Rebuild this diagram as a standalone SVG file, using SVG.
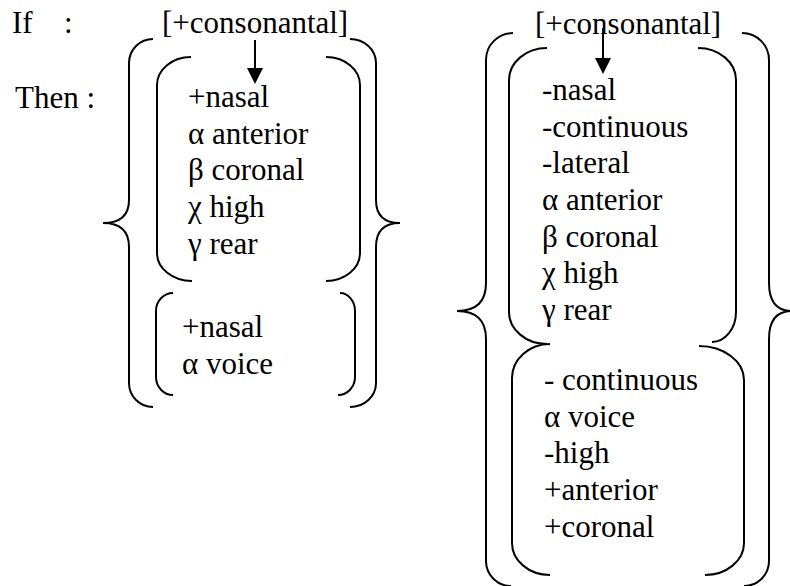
<svg xmlns="http://www.w3.org/2000/svg" width="790" height="586" viewBox="0 0 790 586">
  <defs>
    <style>
      text { font-family: "Liberation Serif", "Times New Roman", serif; font-size: 31px; fill: #000; }
      .br { fill: none; stroke: #000; stroke-width: 2; }
      .ar { stroke: #000; stroke-width: 2; fill: none; }
      .hd { fill: #000; stroke: none; }
    </style>
  </defs>
  <rect width="790" height="586" fill="#fff"/>

  <g id="labels">
    <text x="12" y="33">If</text>
    <text x="64" y="33">:</text>
    <text x="15" y="108">Then :</text>
  </g>

  <g id="left-condition">
    <text x="162" y="33">[+consonantal]</text>
  </g>

  <g id="left-outer-brace">
    <path class="br" d="M153,39 A24,24 0 0 0 129,63 L129,200 Q129,223 103,223 Q129,223 129,247 L129,383 A24,24 0 0 0 153,407"/>
    <path class="br" d="M350,39 A26,24 0 0 1 376,63 L376,200 Q376,223 400,223 Q376,223 376,247 L376,383 A26,24 0 0 1 350,407"/>
  </g>

  <g id="left-inner-top">
    <path class="br" d="M191,57 A34,28 0 0 0 157,85 L157,253 A35,28 0 0 0 192,281"/>
    <path class="br" d="M326,57 A34,28 0 0 1 360,85 L360,253 A34,28 0 0 1 326,281"/>
    <text x="188" y="107">+nasal</text>
    <text x="188" y="144">α anterior</text>
    <text x="188" y="180">β coronal</text>
    <text x="188" y="217">χ high</text>
    <text x="188" y="254">γ rear</text>
  </g>

  <g id="left-inner-bottom">
    <path class="br" d="M173,293 A17,18 0 0 0 156,311 L156,377 A17,18 0 0 0 173,395"/>
    <path class="br" d="M340,293 A15,18 0 0 1 355,311 L355,377 A17,18 0 0 1 338,395"/>
    <text x="182" y="337">+nasal</text>
    <text x="182" y="374">α voice</text>
  </g>

  <g id="right-condition">
    <text x="535" y="34">[+consonantal]</text>
  </g>

  <g id="right-outer-brace">
    <path class="br" d="M513,33 A27,27 0 0 0 486,60 L486,283 Q486,311 457,311 Q486,311 486,339 L486,561 A25,25 0 0 0 511,586"/>
    <path class="br" d="M742,33 A27,27 0 0 1 769,60 L769,283 Q769,311 792,311 Q769,311 769,339 L769,561 A25,25 0 0 1 744,586"/>
  </g>

  <g id="right-inner-top">
    <path class="br" d="M547,48 A38,32 0 0 0 509,80 L509,312 A38,32 0 0 0 547,344"/>
    <path class="br" d="M698,48 A38,32 0 0 1 736,80 L736,312 A24,30 0 0 1 712,342"/>
    <text x="542" y="100">-nasal</text>
    <text x="542" y="137">-continuous</text>
    <text x="542" y="173">-lateral</text>
    <text x="542" y="210">α anterior</text>
    <text x="542" y="247">β coronal</text>
    <text x="542" y="283">χ high</text>
    <text x="542" y="320">γ rear</text>
  </g>

  <g id="right-inner-bottom">
    <path class="br" d="M550,344 A38,34 0 0 0 512,378 L512,543 A38,32 0 0 0 550,575"/>
    <path class="br" d="M699,346 A45,34 0 0 1 744,380 L744,543 A39,32 0 0 1 705,575"/>
    <text x="544" y="390">- continuous</text>
    <text x="544" y="427">α voice</text>
    <text x="544" y="463">-high</text>
    <text x="544" y="500">+anterior</text>
    <text x="544" y="537">+coronal</text>
  </g>

  <g id="connectors">
    <line class="ar" x1="255" y1="40" x2="255" y2="70"/>
    <polygon class="hd" points="247,68 263,68 255,84"/>
    <line class="ar" x1="603" y1="28" x2="603" y2="60"/>
    <polygon class="hd" points="595,58 611,58 603,74"/>
  </g>
</svg>
